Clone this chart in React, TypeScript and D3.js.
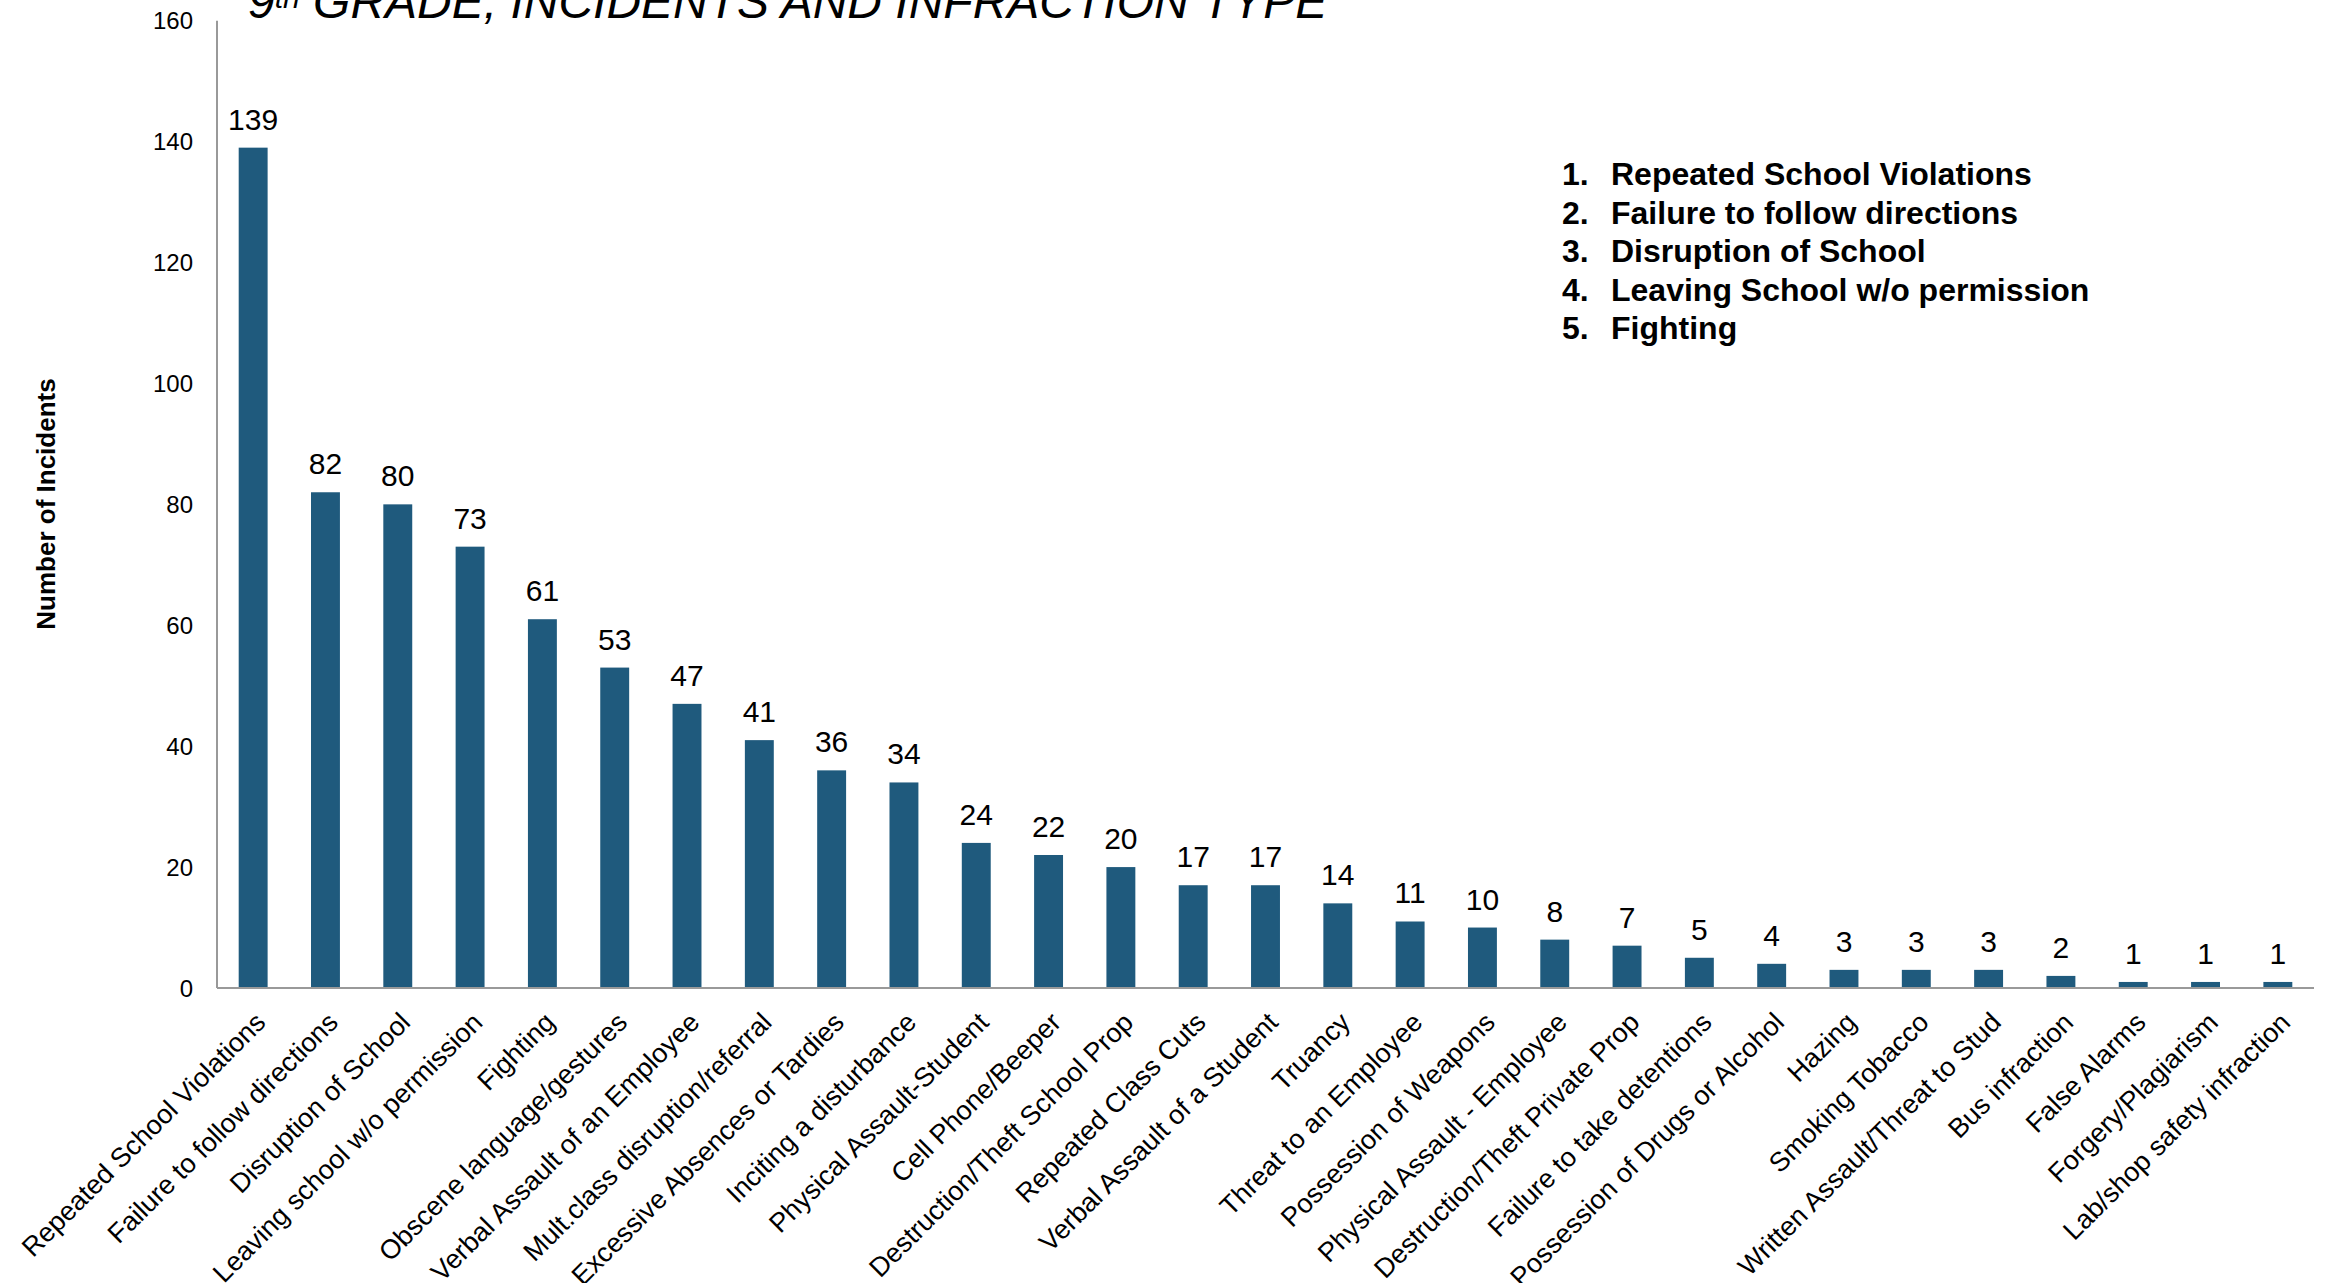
import React from "react";
import * as d3 from "d3";

const categories: string[] = [
  "Repeated School Violations",
  "Failure to follow directions",
  "Disruption of School",
  "Leaving school w/o permission",
  "Fighting",
  "Obscene language/gestures",
  "Verbal Assault of an Employee",
  "Mult.class disruption/referral",
  "Excessive Absences or Tardies",
  "Inciting a disturbance",
  "Physical Assault-Student",
  "Cell Phone/Beeper",
  "Destruction/Theft School Prop",
  "Repeated Class Cuts",
  "Verbal Assault of a Student",
  "Truancy",
  "Threat to an Employee",
  "Possession of Weapons",
  "Physical Assault - Employee",
  "Destruction/Theft Private Prop",
  "Failure to take detentions",
  "Possession of Drugs or Alcohol",
  "Hazing",
  "Smoking Tobacco",
  "Written Assault/Threat to Stud",
  "Bus infraction",
  "False Alarms",
  "Forgery/Plagiarism",
  "Lab/shop safety infraction",
];

const incidents: number[] = [
  139, 82, 80, 73, 61, 53, 47, 41, 36, 34, 24, 22, 20, 17, 17, 14, 11, 10, 8, 7,
  5, 4, 3, 3, 3, 2, 1, 1, 1,
];

const yTicks: number[] = [0, 20, 40, 60, 80, 100, 120, 140, 160];

const topFive: string[] = [
  "Repeated School Violations",
  "Failure to follow directions",
  "Disruption of School",
  "Leaving School w/o permission",
  "Fighting",
];

const W = 2326;
const H = 1283;
const FONT = "'Liberation Sans', Arial, Helvetica, sans-serif";

export default function App() {
  const x0 = 217;
  const x1 = 2314;
  const yTop = 20.7;
  const yBase = 988;

  const x = d3
    .scaleBand<string>()
    .domain(categories)
    .range([x0, x1])
    .paddingInner(0.6)
    .paddingOuter(0.3);

  const y = d3.scaleLinear().domain([0, 160]).range([yBase, yTop]);

  const barColor = "#1f5a7d";

  return (
    <div style={{ position: "fixed", left: 0, top: 0, width: W, height: H, background: "#fff" }}>
      <svg width={W} height={H} style={{ display: "block", fontFamily: FONT }}>
        <rect x={0} y={0} width={W} height={H} fill="#fff" />
        {/* Title */}
        <text x={248} y={18} fontSize={48} fontStyle="italic" fill="#000">
          9<tspan fontSize={30} dy={-10}>th</tspan>
          <tspan dy={10}> GRADE, INCIDENTS AND INFRACTION TYPE</tspan>
        </text>

        {/* Y axis labels */}
        {yTicks.map((t) => (
          <text
            key={t}
            x={193}
            y={y(t)}
            dy="0.36em"
            textAnchor="end"
            fontSize={24}
            fill="#000"
          >
            {t}
          </text>
        ))}

        {/* Y title */}
        <text
          transform={`translate(55,504) rotate(-90)`}
          textAnchor="middle"
          fontSize={26}
          fontWeight="bold"
          fill="#000"
        >
          Number of Incidents
        </text>

        {/* Bars */}
        {categories.map((c, i) => (
          <rect
            key={c}
            x={x(c)!}
            y={y(incidents[i])}
            width={x.bandwidth()}
            height={yBase - y(incidents[i])}
            fill={barColor}
          />
        ))}

        {/* Value labels */}
        {categories.map((c, i) => (
          <text
            key={c + "-v"}
            x={x(c)! + x.bandwidth() / 2}
            y={y(incidents[i]) - 18}
            textAnchor="middle"
            fontSize={30}
            fill="#000"
          >
            {incidents[i]}
          </text>
        ))}

        {/* Axes lines */}
        <line x1={x0} x2={x0} y1={yTop} y2={yBase} stroke="#999" strokeWidth={2} />
        <line x1={x0} x2={x1} y1={yBase} y2={yBase} stroke="#999" strokeWidth={2} />

        {/* X labels */}
        {categories.map((c) => {
          const cx = x(c)! + x.bandwidth() / 2;
          return (
            <text
              key={c + "-l"}
              transform={`translate(${cx + 14},1024) rotate(-45)`}
              textAnchor="end"
              fontSize={27}
              fill="#000"
            >
              {c}
            </text>
          );
        })}

        {/* Top five list */}
        {topFive.map((t, i) => (
          <g key={t} fontSize={32} fontWeight="bold" fill="#000">
            <text x={1562} y={185 + i * 38.6}>
              {`${i + 1}.`}
            </text>
            <text x={1611} y={185 + i * 38.6}>
              {t}
            </text>
          </g>
        ))}
      </svg>
    </div>
  );
}
